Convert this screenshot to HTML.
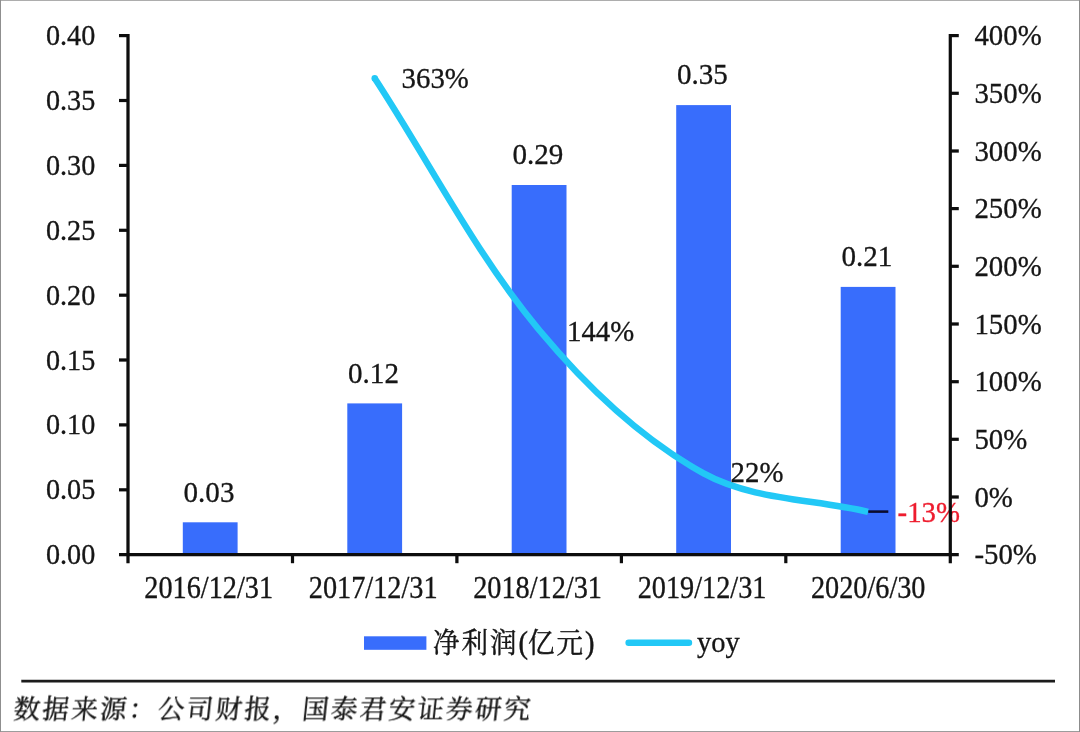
<!DOCTYPE html>
<html lang="zh-CN">
<head>
<meta charset="utf-8">
<title>净利润与yoy</title>
<style>
html,body{margin:0;padding:0;background:#fff;}
body{width:1080px;height:732px;overflow:hidden;position:relative;}
svg{position:absolute;left:0;top:0;display:block;}
text{font-family:"Liberation Serif","Noto Serif CJK SC",serif;font-size:28.5px;fill:#141414;stroke:#141414;stroke-width:0.3px;}
.red{fill:#ee1c2e;stroke:#ee1c2e;}
.cjk{font-family:"Liberation Serif","Noto Serif CJK SC",serif;stroke-width:0.4px;}
.k{font-size:26.5px;letter-spacing:2px;}
.src{font-size:26.5px;letter-spacing:2.35px;}
</style>
</head>
<body>
<svg width="1080" height="732" viewBox="0 0 1080 732">
<rect x="0" y="0" width="1080" height="732" fill="#fff"/>
<path d="M0,0.5H1080" stroke="#adadad" stroke-width="1" fill="none"/>
<path d="M0,731.5H1080" stroke="#9c9c9c" stroke-width="1" fill="none"/>
<path d="M0.5,0V732" stroke="#8f8f8f" stroke-width="1" fill="none"/>
<path d="M1079.5,0V732" stroke="#8c8c8c" stroke-width="1" fill="none"/>
<defs><filter id="soft" filterUnits="userSpaceOnUse" x="0" y="0" width="1080" height="732"><feGaussianBlur stdDeviation="0.42"/></filter></defs>
<g filter="url(#soft)">
<rect x="182.8" y="522.3" width="54.8" height="32.4" fill="#376DFC"/>
<rect x="347.3" y="403.4" width="54.8" height="151.3" fill="#376DFC"/>
<rect x="511.7" y="185.0" width="54.8" height="369.7" fill="#376DFC"/>
<rect x="676.2" y="105.1" width="54.8" height="449.6" fill="#376DFC"/>
<rect x="840.7" y="286.9" width="54.8" height="267.8" fill="#376DFC"/>
<path d="M374.69,78.30 C429.51,162.20 475.62,253.68 539.15,330.00 C585.26,385.38 641.81,439.24 703.61,473.40 C751.45,499.84 813.25,499.00 868.07,511.80" fill="none" stroke="#22C8F6" stroke-width="6.4" stroke-linecap="butt" stroke-linejoin="round"/>
<circle cx="374.69" cy="78.30" r="3.20" fill="#22C8F6"/>
<line x1="868.3" y1="511.6" x2="888.3" y2="511.6" stroke="#08082a" stroke-width="2.5"/>
<text transform="translate(209.0,501.5) scale(1.02,1.06)" text-anchor="middle">0.03</text>
<text transform="translate(373.5,382.6) scale(1.02,1.06)" text-anchor="middle">0.12</text>
<text transform="translate(537.9,164.2) scale(1.02,1.06)" text-anchor="middle">0.29</text>
<text transform="translate(702.4,84.3) scale(1.02,1.06)" text-anchor="middle">0.35</text>
<text transform="translate(866.9,266.1) scale(1.02,1.06)" text-anchor="middle">0.21</text>
<text transform="translate(567.0,341.0) scale(1.011,1.05)">144%</text>
<text transform="translate(401.6,88.0) scale(1.011,1.05)">363%</text>
<text transform="translate(730.6,481.6) scale(1.011,1.045)">22%</text>
<text transform="translate(897.6,522.3) scale(1.011,1.045)" class="red">-13%</text>
<g stroke="#0a0a0a" stroke-width="3.2" fill="none">
<line x1="128.0" y1="34.0" x2="128.0" y2="563.2"/>
<line x1="950.3" y1="34.0" x2="950.3" y2="563.2"/>
<line x1="119.0" y1="554.7" x2="958.8" y2="554.7"/>
<line x1="119.0" y1="489.8" x2="128.0" y2="489.8"/>
<line x1="119.0" y1="424.9" x2="128.0" y2="424.9"/>
<line x1="119.0" y1="360.0" x2="128.0" y2="360.0"/>
<line x1="119.0" y1="295.2" x2="128.0" y2="295.2"/>
<line x1="119.0" y1="230.3" x2="128.0" y2="230.3"/>
<line x1="119.0" y1="165.4" x2="128.0" y2="165.4"/>
<line x1="119.0" y1="100.5" x2="128.0" y2="100.5"/>
<line x1="119.0" y1="35.6" x2="128.0" y2="35.6"/>
<line x1="950.3" y1="497.0" x2="958.8" y2="497.0"/>
<line x1="950.3" y1="439.3" x2="958.8" y2="439.3"/>
<line x1="950.3" y1="381.7" x2="958.8" y2="381.7"/>
<line x1="950.3" y1="324.0" x2="958.8" y2="324.0"/>
<line x1="950.3" y1="266.3" x2="958.8" y2="266.3"/>
<line x1="950.3" y1="208.6" x2="958.8" y2="208.6"/>
<line x1="950.3" y1="151.0" x2="958.8" y2="151.0"/>
<line x1="950.3" y1="93.3" x2="958.8" y2="93.3"/>
<line x1="950.3" y1="35.6" x2="958.8" y2="35.6"/>
<line x1="292.5" y1="554.7" x2="292.5" y2="563.2"/>
<line x1="456.9" y1="554.7" x2="456.9" y2="563.2"/>
<line x1="621.4" y1="554.7" x2="621.4" y2="563.2"/>
<line x1="785.8" y1="554.7" x2="785.8" y2="563.2"/>
</g>
<text transform="translate(95.3,564.2) scale(0.99,1.04)" text-anchor="end">0.00</text>
<text transform="translate(95.3,499.3) scale(0.99,1.04)" text-anchor="end">0.05</text>
<text transform="translate(95.3,434.4) scale(0.99,1.04)" text-anchor="end">0.10</text>
<text transform="translate(95.3,369.5) scale(0.99,1.04)" text-anchor="end">0.15</text>
<text transform="translate(95.3,304.7) scale(0.99,1.04)" text-anchor="end">0.20</text>
<text transform="translate(95.3,239.8) scale(0.99,1.04)" text-anchor="end">0.25</text>
<text transform="translate(95.3,174.9) scale(0.99,1.04)" text-anchor="end">0.30</text>
<text transform="translate(95.3,110.0) scale(0.99,1.04)" text-anchor="end">0.35</text>
<text transform="translate(95.3,45.1) scale(0.99,1.04)" text-anchor="end">0.40</text>
<text transform="translate(974.4,564.2) scale(1.012,1.04)">-50%</text>
<text transform="translate(974.4,506.5) scale(1.012,1.04)">0%</text>
<text transform="translate(974.4,448.8) scale(1.012,1.04)">50%</text>
<text transform="translate(974.4,391.2) scale(1.012,1.04)">100%</text>
<text transform="translate(974.4,333.5) scale(1.012,1.04)">150%</text>
<text transform="translate(974.4,275.8) scale(1.012,1.04)">200%</text>
<text transform="translate(974.4,218.1) scale(1.012,1.04)">250%</text>
<text transform="translate(974.4,160.5) scale(1.012,1.04)">300%</text>
<text transform="translate(974.4,102.8) scale(1.012,1.04)">350%</text>
<text transform="translate(974.4,45.1) scale(1.012,1.04)">400%</text>
<text transform="translate(208.7,597.6) scale(0.992,1.09)" text-anchor="middle">2016/12/31</text>
<text transform="translate(373.2,597.6) scale(0.992,1.09)" text-anchor="middle">2017/12/31</text>
<text transform="translate(537.6,597.6) scale(0.992,1.09)" text-anchor="middle">2018/12/31</text>
<text transform="translate(702.1,597.6) scale(0.992,1.09)" text-anchor="middle">2019/12/31</text>
<text transform="translate(868.2,597.6) scale(0.992,1.09)" text-anchor="middle">2020/6/30</text>
<rect x="364" y="636.3" width="62.4" height="13.5" fill="#376DFC"/>
<text transform="translate(433.0,653.2) scale(1.0,1.09)" class="cjk"><tspan class="k">净利润</tspan>(<tspan class="k">亿元</tspan>)</text>
<line x1="628.6" y1="642.8" x2="689" y2="642.8" stroke="#22C8F6" stroke-width="6.4" stroke-linecap="round"/>
<text transform="translate(697.0,651.8) scale(1.0,1.01)">yoy</text>
<line x1="21.3" y1="681.1" x2="1055" y2="681.1" stroke="#1a1a1a" stroke-width="2.8"/>
<text transform="translate(12.8,718.5) scale(1.0,1.0) skewX(-6)" class="cjk src">数据来源：公司财报，国泰君安证券研究</text>
</g>
</svg>
</body>
</html>
